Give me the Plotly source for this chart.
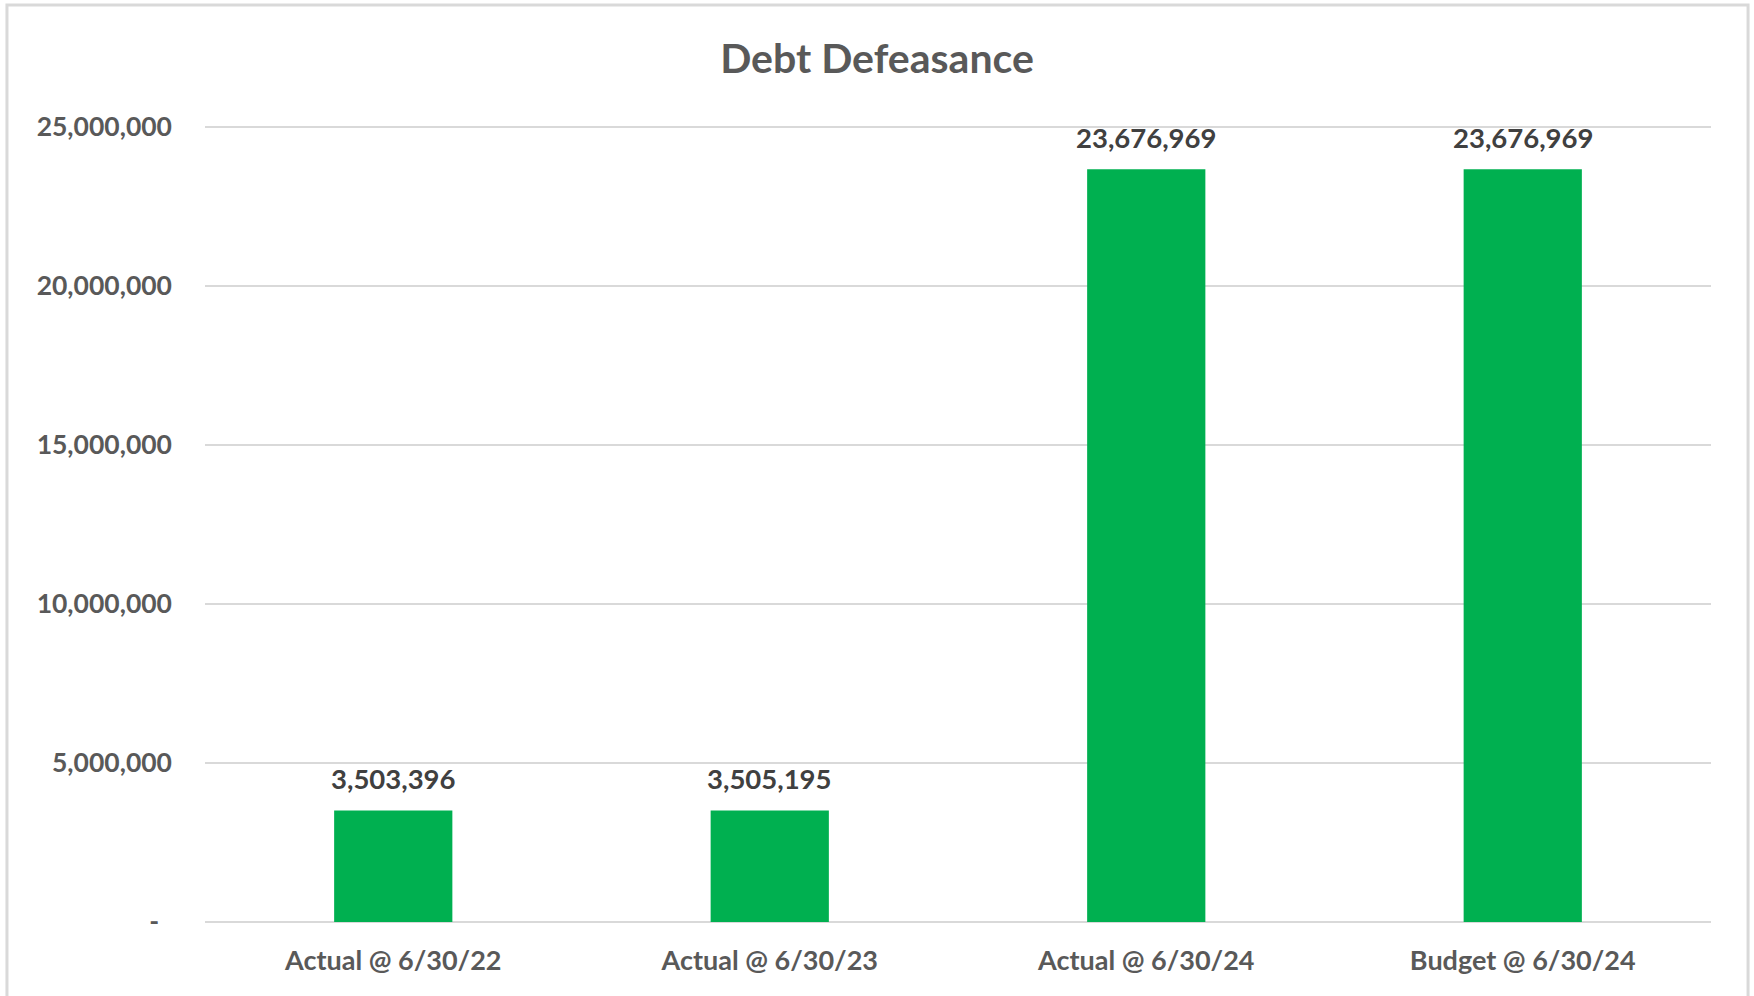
import plotly.graph_objects as go

categories = ["Actual @ 6/30/22", "Actual @ 6/30/23", "Actual @ 6/30/24", "Budget @ 6/30/24"]
values = [3503396, 3505195, 23676969, 23676969]
y_tickvals = [0, 5000000, 10000000, 15000000, 20000000, 25000000]
y_ticktext = ["-\u00a0\u00a0", "5,000,000", "10,000,000", "15,000,000", "20,000,000", "25,000,000"]

FONT = "Lato"
GREEN = "#00B050"
GREY = "#595959"

fig = go.Figure()
fig.add_trace(go.Bar(
    x=categories, y=values,
    marker=dict(color=GREEN, line=dict(width=0)),
    width=0.314,
    hoverinfo="x+y",
))

for c, v in zip(categories, values):
    fig.add_annotation(
        x=c, y=v, xref="x", yref="y",
        text=f"{v:,}", showarrow=False,
        yanchor="middle", yshift=32,
        font=dict(family=FONT, size=27.5, color="#404040", weight="bold"),
    )

# chart border
fig.add_shape(
    type="rect", xref="paper", yref="paper",
    x0=-0.1315, x1=1.0246, y0=-0.2, y1=1.149,
    line=dict(color="#d9d9d9", width=3), fillcolor="rgba(0,0,0,0)",
    layer="below",
)

fig.update_layout(
    width=1754, height=996,
    margin=dict(l=205, r=43, t=124, b=74),
    paper_bgcolor="white", plot_bgcolor="white",
    showlegend=False,
    title=dict(
        text="Debt Defeasance", x=0.5, xref="container", xanchor="center",
        y=1 - 59 / 996, yref="container", yanchor="middle",
        font=dict(family=FONT, size=41, color=GREY, weight="bold"),
    ),
    xaxis=dict(
        showgrid=False, showline=False, zeroline=False,
        tickfont=dict(family=FONT, size=27, color=GREY, weight="bold"),
        ticks="", ticklabelstandoff=20,
    ),
    yaxis=dict(
        range=[0, 25100000], tickvals=y_tickvals, ticktext=y_ticktext,
        showgrid=True, gridcolor="#d9d9d9", gridwidth=2,
        zeroline=True, zerolinecolor="#d9d9d9", zerolinewidth=2,
        showline=False, ticks="",
        tickfont=dict(family=FONT, size=26.5, color=GREY, weight="bold"),
        ticklabelstandoff=32,
    ),
    bargap=0.686,
)

fig.write_html("out.html", config={"displayModeBar": False},
               post_script="document.body.style.margin='0';")
